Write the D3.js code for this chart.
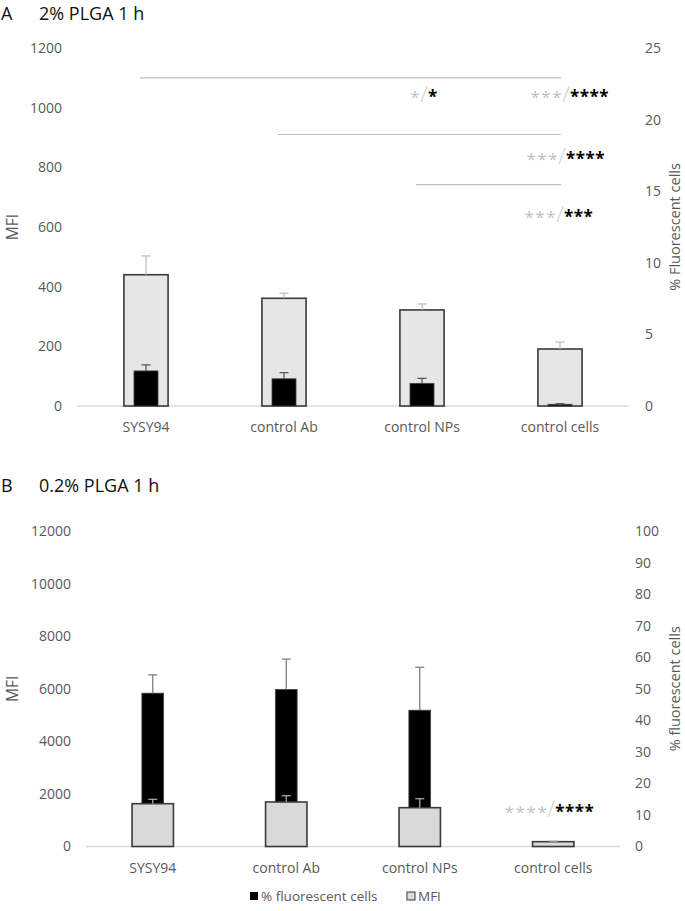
<!DOCTYPE html>
<html><head><meta charset="utf-8">
<script src="https://cdn.jsdelivr.net/npm/d3@7"></script>
<style>body{margin:0;background:#fff}svg{display:block;font-family:"Open Sans",sans-serif}</style>
</head><body><svg id="c" width="685" height="911"></svg>
<script>
const categories = ["SYSY94", "control Ab", "control NPs", "control cells"];
// Panel A: 2% PLGA 1 h
const mfiA = [440, 361, 322, 191];
const mfiAErr = [63, 17, 20, 23];
const pctA = [2.45, 1.9, 1.58, 0.12];
const pctAErr = [0.42, 0.43, 0.35, 0.04];
const leftTicksA = [0, 200, 400, 600, 800, 1000, 1200];
const rightTicksA = [0, 5, 10, 15, 20, 25];
// significance brackets (from category, to category, MFI level)
const bracketsA = [[0, 3, 1100], [1, 3, 910], [2, 3, 742]];
// significance labels: category, MFI level, gray part, black part
const sigA = [[2, 1050, "*", "*"], [3, 1050, "***", "****"], [3, 842, "***", "****"], [3, 648, "***", "***"]];
// Panel B: 0.2% PLGA 1 h
const mfiB = [1628, 1693, 1476, 183];
const mfiBErr = [167, 239, 342, 20];
const pctB = [48.6, 49.8, 43.2, 0.3];
const pctBErr = [5.8, 9.6, 13.6, 0.2];
const leftTicksB = [0, 2000, 4000, 6000, 8000, 10000, 12000];
const rightTicksB = [0, 10, 20, 30, 40, 50, 60, 70, 80, 90, 100];
const sigB = [[3, 1450, "****", "****"]];

const svg = d3.select("#c");
const tickCol = "#595959";

function panel(o) {
  const g = svg.append("g");
  const x = d3.scaleBand().domain(categories).range(o.xr);
  const yL = d3.scaleLinear().domain([0, o.leftTicks[o.leftTicks.length-1]]).range(o.yr);
  const yR = d3.scaleLinear().domain([0, o.rightTicks[o.rightTicks.length-1]]).range(o.yr);
  // title
  g.append("text").attr("x", 1).attr("y", o.titleY).attr("font-size", 18).attr("fill", "#111").text(o.letter);
  g.append("text").attr("x", 39).attr("y", o.titleY).attr("font-size", 18).attr("fill", "#111").text(o.title);
  // axes
  const al = g.append("g").attr("transform", `translate(${o.leftLabX},0)`)
    .call(d3.axisLeft(yL).tickValues(o.leftTicks).tickSize(0).tickPadding(0).tickFormat(d3.format("d")));
  al.select(".domain").remove();
  al.selectAll("text").attr("fill", tickCol).attr("font-size", 14).attr("font-family", "Open Sans");
  const ar = g.append("g").attr("transform", `translate(${o.rightLabX},0)`)
    .call(d3.axisRight(yR).tickValues(o.rightTicks).tickSize(0).tickPadding(0));
  ar.select(".domain").remove();
  ar.selectAll("text").attr("fill", tickCol).attr("font-size", 14).attr("font-family", "Open Sans");
  // axis titles
  const yMid = (o.yr[0] + o.yr[1]) / 2;
  g.append("text").attr("transform", `translate(18,${yMid}) rotate(-90)`).attr("text-anchor", "middle")
    .attr("font-size", 15.5).attr("fill", tickCol).text("MFI");
  g.append("text").attr("transform", `translate(${o.rightTitleX},${yMid}) rotate(-90)`).attr("text-anchor", "middle")
    .attr("font-size", 14.5).attr("fill", tickCol).text(o.rightTitle);
  // baseline
  g.append("line").attr("x1", o.xr[0]).attr("x2", o.xr[1]).attr("y1", o.yr[0]).attr("y2", o.yr[0])
    .attr("stroke", "#d9d9d9").attr("stroke-width", 1.5);
  // category labels
  g.selectAll(".cat").data(categories).join("text")
    .attr("x", d => x(d) + x.bandwidth()/2).attr("y", o.yr[0] + 26).attr("text-anchor", "middle")
    .attr("font-size", 14).attr("fill", tickCol).text(d => d);

  const gw = x.bandwidth() * o.gFrac, bw = x.bandwidth() * o.bFrac;
  const cx = d => x(d) + x.bandwidth()/2;
  function grayBars() {
    g.selectAll(null).data(categories).join("rect")
      .attr("x", d => cx(d) - gw/2).attr("width", gw)
      .attr("y", (d,i) => yL(o.mfi[i])).attr("height", (d,i) => yL(0) - yL(o.mfi[i]))
      .attr("fill", o.grayFill).attr("stroke", "#3a3a3a").attr("stroke-width", 1.6);
  }
  function grayErr() {
    categories.forEach((d,i) => {
      const c = cx(d), y0 = yL(o.mfi[i]), y1 = yL(o.mfi[i] + o.mfiErr[i]);
      g.append("line").attr("x1", c).attr("x2", c).attr("y1", y0).attr("y2", y1).attr("stroke", o.grayErrCol).attr("stroke-width", 1.3);
      g.append("line").attr("x1", c-4.5).attr("x2", c+4.5).attr("y1", y1).attr("y2", y1).attr("stroke", o.grayErrCol).attr("stroke-width", 1.3);
    });
  }
  function blackBars() {
    g.selectAll(null).data(categories).join("rect")
      .attr("x", d => cx(d) - bw/2).attr("width", bw)
      .attr("y", (d,i) => yR(o.pct[i])).attr("height", (d,i) => yR(0) - yR(o.pct[i]))
      .attr("fill", "#000").attr("stroke", "#444").attr("stroke-width", 0.8);
  }
  function blackErr() {
    categories.forEach((d,i) => {
      const c = cx(d), y0 = yR(o.pct[i]), y1 = yR(o.pct[i] + o.pctErr[i]);
      g.append("line").attr("x1", c).attr("x2", c).attr("y1", y0).attr("y2", y1).attr("stroke", o.blackErrCol).attr("stroke-width", 1.3);
      g.append("line").attr("x1", c-4.5).attr("x2", c+4.5).attr("y1", y1).attr("y2", y1).attr("stroke", o.blackErrCol).attr("stroke-width", 1.3);
    });
  }
  if (o.grayFront) { blackBars(); blackErr(); grayBars(); grayErr(); }
  else { grayBars(); grayErr(); blackBars(); blackErr(); }

  (o.brackets || []).forEach(b => {
    const yy = yL(b[2]);
    g.append("line").attr("x1", cx(categories[b[0]]) - 6).attr("x2", cx(categories[b[1]]) + 1)
      .attr("y1", yy).attr("y2", yy).attr("stroke", "#bfbfbf").attr("stroke-width", 1.2);
  });
  (o.sig || []).forEach((s, k) => {
    const sx = cx(categories[s[0]]) + (o.sigDx ? o.sigDx[k] : 0);
    const yc = yL(s[1]);
    g.append("text").attr("x", sx - 3).attr("y", yc + 10).attr("text-anchor", "end")
      .attr("font-size", 17).attr("letter-spacing", 1.5).attr("fill", "#bfbfbf").text(s[2]);
    g.append("text").attr("x", sx).attr("y", yc + 9).attr("text-anchor", "middle")
      .attr("font-size", 22).attr("font-weight", 300).attr("fill", "#d0d0d0").text("/");
    g.append("text").attr("x", sx + 4).attr("y", yc + 10).attr("text-anchor", "start")
      .attr("font-size", 17).attr("font-weight", "bold").attr("letter-spacing", 0.5).attr("fill", "#000").text(s[3]);
  });
}

panel({letter: "A", title: "2% PLGA 1 h", titleY: 20, xr: [77, 629], yr: [406, 48],
  leftTicks: leftTicksA, rightTicks: rightTicksA, leftLabX: 62, rightLabX: 645, rightTitleX: 680,
  rightTitle: "% Fluorescent cells", mfi: mfiA, mfiErr: mfiAErr, pct: pctA, pctErr: pctAErr,
  gFrac: 0.32, bFrac: 0.174, grayFill: "#e6e6e6", grayErrCol: "#bfbfbf", blackErrCol: "#595959",
  grayFront: false, brackets: bracketsA, sig: sigA, sigDx: [2, 6, 2, 0]});

panel({letter: "B", title: "0.2% PLGA 1 h", titleY: 492, xr: [86, 620], yr: [846.5, 531],
  leftTicks: leftTicksB, rightTicks: rightTicksB, leftLabX: 71, rightLabX: 635, rightTitleX: 680,
  rightTitle: "% fluorescent cells", mfi: mfiB, mfiErr: mfiBErr, pct: pctB, pctErr: pctBErr,
  gFrac: 0.31, bFrac: 0.163, grayFill: "#d9d9d9", grayErrCol: "#a6a6a6", blackErrCol: "#808080",
  grayFront: true, sig: sigB, sigDx: [-2]});

// legend
const leg = svg.append("g").attr("transform", "translate(0,896)");
leg.append("rect").attr("x", 250).attr("y", -4).attr("width", 8).attr("height", 8).attr("fill", "#000");
leg.append("text").attr("x", 261).attr("y", 5).attr("font-size", 13.5).attr("fill", tickCol).text("% fluorescent cells");
leg.append("rect").attr("x", 407).attr("y", -4).attr("width", 8).attr("height", 8).attr("fill", "#d9d9d9").attr("stroke", "#3a3a3a").attr("stroke-width", 1);
leg.append("text").attr("x", 418).attr("y", 5).attr("font-size", 13.5).attr("fill", tickCol).text("MFI");
</script></body></html>
